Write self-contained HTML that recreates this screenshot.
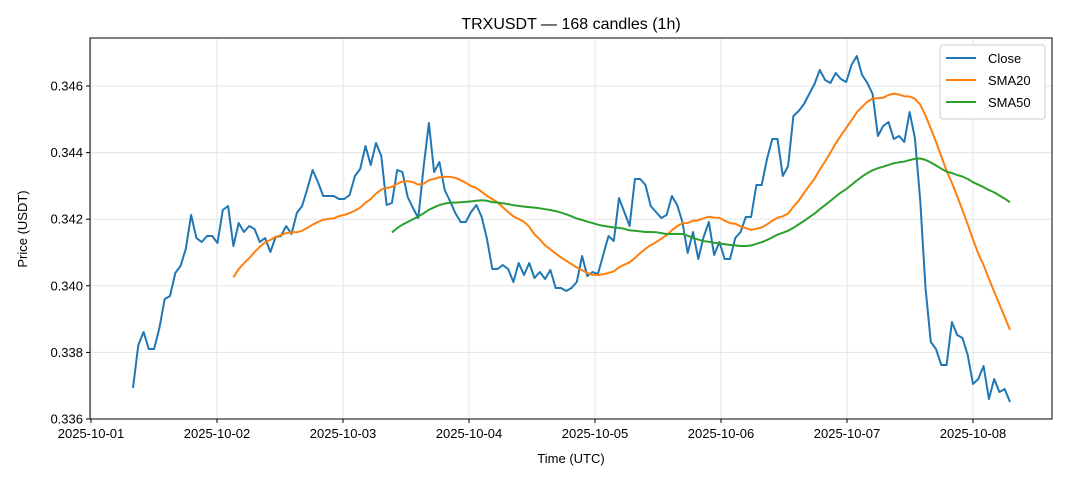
<!DOCTYPE html>
<html><head><meta charset="utf-8"><style>
body{margin:0;background:#fff}
svg{font-family:"Liberation Sans","DejaVu Sans",sans-serif}
</style></head><body>
<svg id="s" width="1068" height="481" xmlns="http://www.w3.org/2000/svg">
<rect width="1068" height="481" fill="#fff"/>
<g id="grid" stroke="#e3e6ea" stroke-width="1"></g>
<text x="571" y="29" font-size="16" text-anchor="middle">TRXUSDT — 168 candles (1h)</text>
<text x="571" y="463" font-size="13" text-anchor="middle">Time (UTC)</text>
<text transform="translate(27,229) rotate(-90)" font-size="13" text-anchor="middle">Price (USDT)</text>
<g id="ticks" font-size="13"></g>
<g id="lines" fill="none" stroke-width="2" stroke-linejoin="round"></g>
<rect x="90" y="38" width="962" height="381" fill="none" stroke="#000" stroke-width="1"/>
<g>
<rect x="940" y="45" width="105" height="74" fill="#fff" stroke="#ccc" rx="3"/>
<line x1="946" y1="58" x2="976" y2="58" stroke="#1f77b4" stroke-width="2"/>
<line x1="946" y1="80" x2="976" y2="80" stroke="#ff7f0e" stroke-width="2"/>
<line x1="946" y1="102" x2="976" y2="102" stroke="#2ca02c" stroke-width="2"/>
<text x="988" y="63" font-size="13">Close</text>
<text x="988" y="85" font-size="13">SMA20</text>
<text x="988" y="107" font-size="13">SMA50</text>
</g>
</svg>
<script>
var NS="http://www.w3.org/2000/svg";
function el(p,t,a,txt){var e=document.createElementNS(NS,t);for(var k in a)e.setAttribute(k,a[k]);if(txt)e.textContent=txt;p.appendChild(e);return e;}
var g=document.getElementById('grid'),tk=document.getElementById('ticks'),ln=document.getElementById('lines');
for(var i=0;i<6;i++){var y=419-i*66.6;el(g,'line',{x1:90,x2:1052,y1:y,y2:y});
el(tk,'line',{x1:86,x2:90,y1:y,y2:y,stroke:'#000'});
el(tk,'text',{x:83,y:y+4.5,'text-anchor':'end'},(0.336+i*0.002).toFixed(3));}
for(var d=0;d<8;d++){var x=91+d*126;el(g,'line',{x1:x,x2:x,y1:38,y2:419});
el(tk,'line',{x1:x,x2:x,y1:419,y2:423,stroke:'#000'});
el(tk,'text',{x:x,y:438,'text-anchor':'middle'},'2025-10-0'+(d+1));}
var c=[388,345,332,349,349,328,299,296,273,266,249,215,238,242,236,236,243,210,206,246,223,232,226,229,242,238,252,237,236,226,234,213,206,189,170,182,196,196,196,199,199,195,176,169,146,165,143,156,205,203,170,172,197,208,218,167,123,172,162,190,201,213,222,222,212,205,217,239,269,269,265,269,282,263,275,263,278,272,279,270,288,288,291,288,282,256,276,272,274,255,236,241,198,212,226,179,179,185,206,212,218,215,196,205,222,253,232,259,237,222,255,242,259,259,238,232,217,217,185,185,159,139,139,176,166,116,111,104,94,84,70,80,83,73,79,82,65,56,75,83,94,136,126,122,139,136,142,112,138,200,288,342,349,365,365,322,335,338,355,384,379,366,399,379,392,389,402];
var n=c.length,step=877/(n-1);
function X(i){return 133+i*step;}
function path(arr,start,col){var d='';for(var i=start;i<arr.length;i++){d+=(i==start?'M':'L')+X(i).toFixed(1)+','+arr[i].toFixed(1);}el(ln,'path',{d:d,stroke:col});}
function sma(w){var r=[];for(var i=0;i<n;i++){if(i<w-1){r.push(0);continue;}var s=0;for(var j=i-w+1;j<=i;j++)s+=c[j];r.push(s/w);}return r;}
path(c,0,'#1f77b4');path(sma(20),19,'#ff7f0e');path(sma(50),49,'#2ca02c');
</script>
</body></html>
